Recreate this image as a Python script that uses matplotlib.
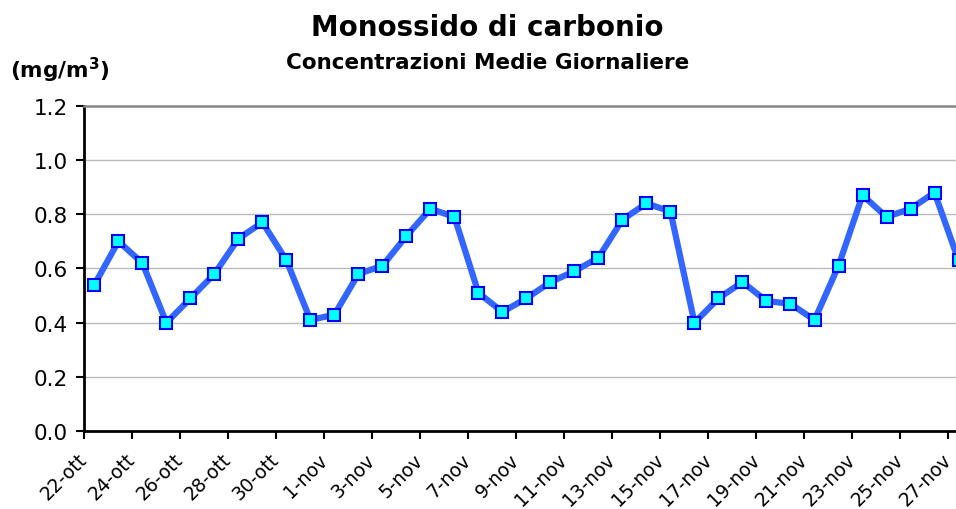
import numpy as np
import matplotlib
matplotlib.use("Agg")
import matplotlib.pyplot as plt

# giorni dal 22 ottobre al 27 novembre
giorni = [f"{d}-ott" for d in range(22, 32)] + [f"{d}-nov" for d in range(1, 28)]

# concentrazioni medie giornaliere CO (mg/m3)
co = [0.54, 0.70, 0.62, 0.40, 0.49, 0.58, 0.71, 0.77, 0.63, 0.41,
      0.43, 0.58, 0.61, 0.72, 0.82, 0.79, 0.51, 0.44, 0.49, 0.55,
      0.59, 0.64, 0.78, 0.84, 0.81, 0.40, 0.49, 0.55, 0.48, 0.47,
      0.41, 0.61, 0.87, 0.79, 0.82, 0.88, 0.63]

yticks = [0.0, 0.2, 0.4, 0.6, 0.8, 1.0, 1.2]

plt.rcParams['font.family'] = ['DejaVu Sans']

fig = plt.figure(figsize=(9.56, 5.10), dpi=100)
ax = fig.add_axes([0.0882, 0.1524, 0.929, 0.6384])

x = np.arange(len(co)) + 0.42   # punti spostati rispetto alle tacche
ax.plot(x, co, color='#3366FF', lw=4.5, marker='s', ms=8.5,
        mfc='#00FFFF', mec='#0000FF', mew=1.5, clip_on=False, zorder=3)

ax.set_xlim(0, len(co))
ax.set_ylim(0, 1.2)
ax.set_yticks(yticks)
ax.set_yticklabels([f"{v:.1f}" for v in yticks], fontsize=15.5)
ax.set_xticks(np.arange(0, len(co), 2))
ax.set_xticklabels(giorni[::2], fontsize=13.5, rotation=45, ha='right',
                   va='center', rotation_mode='anchor')

ax.grid(axis='y', color='#BBBBBB', lw=1)
ax.set_axisbelow(True)
ax.spines['right'].set_visible(False)
ax.spines['top'].set_color('#888888')
ax.spines['top'].set_linewidth(1.8)
ax.spines['left'].set_linewidth(2)
ax.spines['bottom'].set_linewidth(2)
ax.tick_params(axis='both', direction='out', length=6, width=1.5, pad=6)
ax.tick_params(axis='x', pad=12)

fig.text(0.51, 0.945, "Monossido di carbonio", ha='center', va='center',
         fontsize=20, fontweight='bold')
fig.text(0.51, 0.877, "Concentrazioni Medie Giornaliere", ha='center',
         va='center', fontsize=15.5, fontweight='bold')
fig.text(0.01, 0.862, "(mg/m$^\\mathbf{3}$)", ha='left', va='center',
         fontsize=15.5, fontweight='bold')

fig.savefig("out.png", dpi=100)
